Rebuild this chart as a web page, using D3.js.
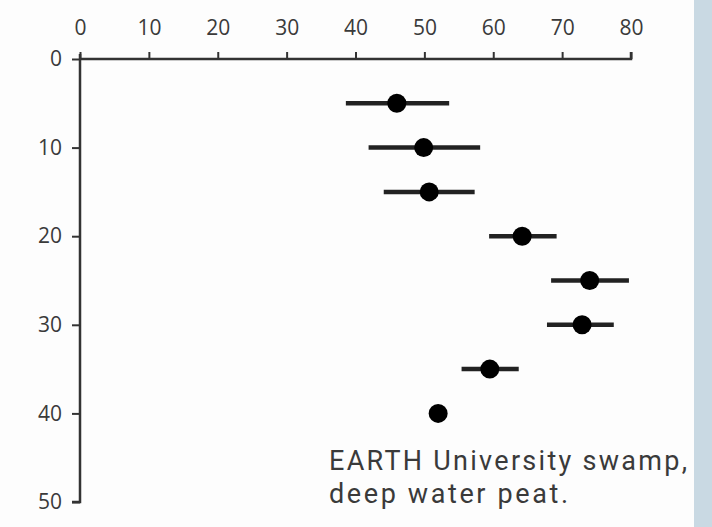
<!DOCTYPE html>
<html>
<head>
<meta charset="utf-8">
<script src="https://cdn.jsdelivr.net/npm/d3@7"></script>
<style>
  body { margin: 0; background: #fdfdfd; }
  svg { display: block; }
  .tick text { font-family: "Open Sans", sans-serif; fill: #3a3a3a; }
</style>
</head>
<body>
<script>
var w = 712;
var h = 527;

// depth (cm) and value with error range
var depths = [5, 10, 15, 20, 25, 30, 35, 40];
var values = [46.0, 49.9, 50.7, 64.2, 74.0, 72.9, 59.5, 52.0];
var lows   = [38.6, 41.9, 44.1, 59.4, 68.4, 67.8, 55.4, null];
var highs  = [53.6, 58.1, 57.3, 69.2, 79.7, 77.5, 63.7, null];

var xTicks = [0, 10, 20, 30, 40, 50, 60, 70, 80];
var yTicks = [0, 10, 20, 30, 40, 50];
var caption = ["EARTH University swamp,", "deep water peat."];
var captionWidth = [358, 239];

var svg = d3.select("body").append("svg")
    .attr("width", w)
    .attr("height", h);

svg.append("rect")
    .attr("x", 694).attr("y", 0)
    .attr("width", w - 694).attr("height", h)
    .attr("fill", "#c9d9e3");

var x = d3.scaleLinear().domain([0, 80]).range([80, 631]);
var y = d3.scaleLinear().domain([0, 50]).range([59, 502]);

var xAxis = svg.append("g")
    .attr("transform", "translate(0," + y(0) + ")")
    .call(d3.axisTop(x).tickValues(xTicks).tickSize(7).tickSizeOuter(7).tickPadding(17));
var yAxis = svg.append("g")
    .attr("transform", "translate(" + x(0) + ",0)")
    .call(d3.axisLeft(y).tickValues(yTicks).tickSize(8).tickSizeOuter(8).tickPadding(10));

[xAxis, yAxis].forEach(function (a) {
    a.select(".domain").attr("stroke", "#333").attr("stroke-width", 2.5);
    a.selectAll(".tick line").attr("stroke", "#333").attr("stroke-width", 2);
    a.selectAll(".tick text").attr("font-size", 21);
});
xAxis.select(".domain").attr("d", "M" + x(0) + ",0H" + x(80) + "V-7");
yAxis.select(".domain").attr("d", "M-8," + y(50) + "H0V" + (y(0) - 5));

var data = depths.map(function (d, i) {
    return { depth: d, v: values[i], lo: lows[i], hi: highs[i] };
});

var g = svg.append("g");
g.selectAll("line.err")
    .data(data.filter(function (d) { return d.lo != null; }))
    .enter().append("line")
    .attr("class", "err")
    .attr("x1", function (d) { return x(d.lo); })
    .attr("x2", function (d) { return x(d.hi); })
    .attr("y1", function (d) { return y(d.depth); })
    .attr("y2", function (d) { return y(d.depth); })
    .attr("stroke", "#222")
    .attr("stroke-width", 4.5);

g.selectAll("circle")
    .data(data)
    .enter().append("circle")
    .attr("cx", function (d) { return x(d.v); })
    .attr("cy", function (d) { return y(d.depth); })
    .attr("r", 9.5)
    .attr("fill", "#000");

svg.append("g").selectAll("text")
    .data(caption)
    .enter().append("text")
    .attr("x", 329)
    .attr("y", function (d, i) { return 470 + i * 33; })
    .attr("font-family", "Roboto, sans-serif")
    .attr("font-size", 27)
    .attr("textLength", function (d, i) { return captionWidth[i]; })
    .attr("lengthAdjust", "spacing")
    .attr("fill", "#3a3a3a")
    .text(function (d) { return d; });
</script>
</body>
</html>
